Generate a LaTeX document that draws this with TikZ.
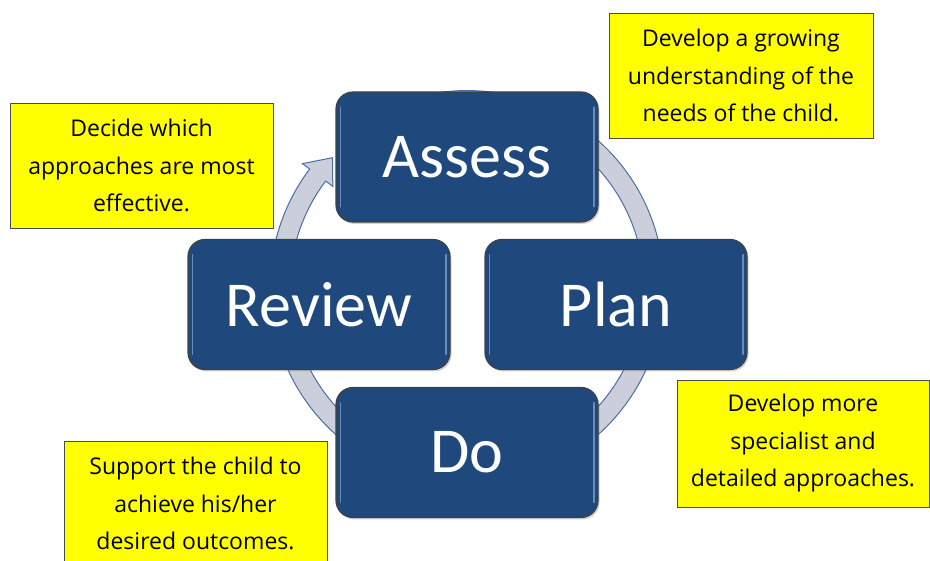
\documentclass[tikz,border=0pt]{standalone}
\usepackage{fontspec}
\setmainfont{Carlito}
\newfontfamily\notefont{Open Sans}
\usetikzlibrary{shadows}
\definecolor{boxblue}{HTML}{1F497D}
\definecolor{ringfill}{HTML}{CBCFDB}
\definecolor{ringedge}{HTML}{4A6FA0}
\definecolor{glint}{HTML}{9DBBE0}
\definecolor{noteyellow}{HTML}{FFFF00}
\begin{document}
\begin{tikzpicture}[x=1pt,y=1pt,
  stage/.style={draw=black!75, line width=1.2pt, fill=boxblue, rounded corners=17pt,
    minimum width=262pt, minimum height=130pt, text=white, inner sep=0pt,
    font=\fontsize{64}{70}\selectfont,
    drop shadow={shadow xshift=1.5pt, shadow yshift=-2pt, opacity=0.35}},
  note/.style={draw=black!70, line width=0.8pt, fill=noteyellow, minimum height=125pt,
    text=black, align=center, inner sep=0pt,
    font=\notefont\fontsize{23}{37.5}\selectfont},
  ring/.style={fill=ringfill, draw=ringedge, line width=1pt},
  glintline/.style={draw=glint, line width=1.8pt, opacity=0.6, line cap=round}]
\useasboundingbox (0,0) rectangle (930,561);
\clip (0,0) rectangle (930,561);
\fill[white] (0,0) rectangle (930,561);
\coordinate (c) at (467,273.4);
% circular arrow
\draw[ring] ([shift={(c)}]100:197) arc[start angle=100, end angle=-217, radius=197]
  -- ([shift={(c)}]-217:206) -- ([shift={(c)}]-224:187) -- ([shift={(c)}]-217:168)
  -- ([shift={(c)}]-217:177) arc[start angle=-217, end angle=100, radius=177] -- cycle;
% stage boxes
\node[stage] (assess) at (467,404) {Assess};
\node[stage] (review) at (319,256.5) {Review};
\node[stage] (plan) at (616,256.5) {Plan};
\node[stage] (do) at (467,108.5) {Do};
\foreach \n in {assess,review,plan,do}{
  \draw[glintline] ([xshift=5pt,yshift=-16pt]\n.north west) -- ([xshift=5pt,yshift=16pt]\n.south west);
  \draw[glintline] ([xshift=-5pt,yshift=-16pt]\n.north east) -- ([xshift=-5pt,yshift=16pt]\n.south east);
}
% notes
\node[note, minimum width=263pt] (n1) at (141.5,395.5) {Decide which\\approaches are most\\effective.};
\node[note, minimum width=264pt] (n2) at (741,485.5) {Develop a growing\\understanding of the\\needs of the child.};
\node[note, minimum width=252pt, minimum height=127pt] (n3) at (803,117.5) {Develop more\\specialist and\\detailed approaches.};
\node[note, minimum width=263pt] (n4) at (195.5,57.5) {Support the child to\\achieve his/her\\desired outcomes.};
\end{tikzpicture}
\end{document}
